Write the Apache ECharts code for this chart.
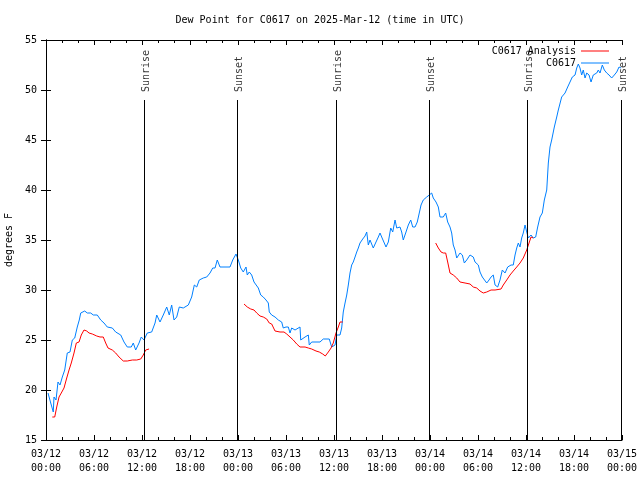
<!DOCTYPE html>
<html><head><meta charset="utf-8">
<script src="https://cdn.jsdelivr.net/npm/echarts@6/dist/echarts.min.js"></script>
<style>html,body{margin:0;padding:0;background:#fff}#c{width:640px;height:480px}</style>
</head><body><div id="c"></div>
<script>
// hours since 2025-03-12 00:00 UTC
const obsHours = [0.25,0.59,0.91,1.0,1.25,1.5,1.75,2.04,2.34,2.66,3.0,3.29,3.59,3.91,4.16,4.34,4.54,4.84,5.16,5.59,5.91,6.41,6.84,7.25,7.66,8.29,8.71,9.34,9.75,10.16,10.66,10.91,11.21,11.63,11.91,12.25,12.66,13.21,13.63,13.84,14.25,14.66,15.09,15.41,15.71,16.0,16.34,16.66,17.16,17.79,18.21,18.54,18.84,19.16,19.66,20.09,20.5,20.84,21.13,21.41,21.75,23.0,23.34,23.75,24.04,24.34,24.66,25.0,25.16,25.41,25.71,26.0,26.25,26.54,26.84,27.16,27.5,27.79,27.91,28.21,28.63,29.04,29.46,29.66,30.0,30.29,30.5,30.71,31.13,31.75,31.84,32.38,32.79,32.91,33.21,34.25,34.66,35.41,35.71,36.13,36.34,36.75,36.96,37.16,37.38,37.59,37.79,38.0,38.21,38.41,38.63,38.84,39.04,39.25,39.59,39.88,40.09,40.29,40.5,40.71,40.91,41.25,41.54,41.75,41.96,42.16,42.5,42.79,43.09,43.34,43.63,43.84,44.25,44.46,44.66,45.0,45.29,45.59,45.84,46.13,46.41,46.66,46.88,47.16,47.59,47.91,48.21,48.41,48.75,49.04,49.25,49.66,49.96,50.21,50.5,50.71,50.91,51.13,51.34,51.54,51.75,52.04,52.29,52.59,53.0,53.41,53.63,54.04,54.25,54.54,54.79,55.09,55.38,55.63,55.91,56.13,56.46,56.75,57.04,57.38,57.71,58.13,58.41,58.63,58.84,59.04,59.25,59.46,59.66,59.88,60.09,60.29,60.63,60.91,61.21,61.46,61.75,62.04,62.29,62.59,62.79,63.0,63.21,63.54,63.84,64.04,64.46,64.88,65.21,65.5,65.79,66.13,66.34,66.54,66.75,66.96,67.16,67.38,67.59,67.88,68.13,68.41,68.84,69.04,69.25,69.54,69.79,70.09,70.38,70.71,71.04,71.34,71.63,71.88];
const obsValues = [19.7,18.7,17.8,19.3,19.0,20.8,20.5,21.3,22.0,23.7,23.8,25.0,25.2,26.3,27.0,27.7,27.8,27.9,27.7,27.7,27.5,27.5,27.0,26.7,26.3,26.2,25.8,25.5,24.8,24.3,24.3,24.7,24.0,24.7,25.3,25.0,25.7,25.8,26.7,27.5,26.8,27.5,28.3,27.5,28.5,27.0,27.3,28.3,28.2,28.5,29.3,30.5,30.3,31.0,31.2,31.3,31.7,32.2,32.2,33.0,32.3,32.3,33.0,33.6,33.0,32.2,31.8,32.3,31.5,31.8,31.5,30.8,31.0,30.2,29.5,29.3,29.0,28.7,27.8,27.5,27.3,27.0,26.8,26.2,26.3,26.3,25.7,26.2,26.0,26.3,25.0,25.3,25.5,24.5,24.8,24.8,25.1,25.1,24.3,24.5,25.5,25.5,26.2,27.8,28.7,29.5,30.5,31.7,32.5,32.8,33.3,33.8,34.2,34.7,35.1,35.4,35.8,34.5,35.0,35.2,34.2,34.8,35.3,35.7,35.3,35.5,34.3,34.8,36.2,35.8,37.0,36.2,36.3,35.8,35.0,35.8,36.5,37.0,36.3,36.3,36.8,37.7,38.5,39.0,39.3,39.5,39.7,39.2,38.8,38.3,37.3,37.3,37.7,36.8,36.3,35.7,34.5,34.0,33.2,33.2,33.7,33.5,32.7,33.0,33.5,33.3,32.8,32.5,31.8,31.3,31.5,30.7,31.0,31.3,31.5,30.5,30.3,31.0,32.0,31.7,32.3,32.5,32.5,33.5,34.2,34.7,34.3,35.2,35.7,36.5,35.8,35.2,35.5,35.2,35.3,36.3,37.3,37.7,39.0,40.0,42.7,44.3,45.0,46.3,47.3,48.0,49.3,49.7,50.3,50.8,51.3,51.5,52.2,52.6,52.2,51.5,52.0,51.2,51.7,51.5,50.8,51.5,51.7,52.0,51.7,52.5,52.0,51.7,51.5,51.2,51.5,51.8,52.3,52.2];

// analysis segments (gaps between them)
const anaHours1 = [0.79,1.09,1.34,1.63,1.91,2.25,2.59,2.88,3.16,3.5,3.79,4.13,4.41,4.75,5.09,5.38,5.79,6.34,6.75,7.16,7.46,7.75,8.29,8.71,9.13,9.66,10.16,10.79,11.34,11.84,12.16,12.46,12.88];
const anaValues1 = [17.3,17.3,18.3,19.3,19.7,20.2,21.2,22.0,22.7,23.7,24.7,24.8,25.5,26.0,25.9,25.7,25.6,25.4,25.3,25.3,24.7,24.2,24.0,23.7,23.3,22.9,22.9,23.0,23.0,23.1,23.5,24.0,24.1];
const anaHours2 = [24.75,25.16,25.59,26.0,26.34,26.75,27.16,27.59,27.91,28.21,28.63,29.25,29.75,30.09,30.5,30.91,31.34,31.75,32.38,32.79,33.21,33.75,34.16,34.59,34.91,35.29,35.63,35.91,36.25,36.54,36.75,37.09];
const anaValues2 = [28.6,28.3,28.1,28.0,27.7,27.4,27.3,27.1,26.7,26.6,25.9,25.8,25.8,25.6,25.3,25.0,24.6,24.3,24.3,24.2,24.1,23.9,23.8,23.6,23.4,23.8,24.2,24.7,25.7,26.3,26.8,26.8];
const anaHours3 = [48.71,49.04,49.38,49.66,49.96,50.21,50.5,50.91,51.34,51.75,52.38,53.0,53.41,53.84,54.25,54.66,55.09,55.63,56.13,56.88,57.16,57.59,58.0,58.41,58.84,59.25,59.66,60.09,60.38,60.63,60.91];
const anaValues3 = [34.7,34.2,33.8,33.7,33.7,32.8,31.7,31.5,31.2,30.8,30.7,30.6,30.3,30.2,29.9,29.7,29.8,30.0,30.0,30.1,30.5,31.0,31.5,31.9,32.3,32.7,33.2,34.0,34.7,35.3,35.2];

const eventHours = [12.25, 23.875, 36.25, 47.875, 60.125, 71.9];
const eventNames = ['Sunrise','Sunset','Sunrise','Sunset','Sunrise','Sunset'];

const yMin = 15, yMax = 55, yStep = 5;
const xMin = 0, xMax = 72, xStep = 6;
const lineTop = 49;

const FONT = 'DejaVu Sans Mono';
function zip(a,b){return a.map((v,i)=>[v,b[i]]);}
const anaData = zip(anaHours1,anaValues1).concat([[null,null]], zip(anaHours2,anaValues2), [[null,null]], zip(anaHours3,anaValues3)).map(p=>p[0]===null?'-':p);

function xLabel(v){
  const day = 12 + Math.floor(v/24);
  const hr = v % 24;
  return '03/' + day + '\n' + (hr<10?'0':'') + hr + ':00';
}

const chart = echarts.init(document.getElementById('c'), null, {renderer:'canvas'});
const axisLine = {show:true, lineStyle:{color:'#000', width:1}};
const legendText = {fontFamily:FONT, fontSize:10, color:'#000'};
chart.setOption({
  animation:false,
  backgroundColor:'#fff',
  title:{text:'Dew Point for C0617 on 2025-Mar-12 (time in UTC)', left:'center', top:10,
    textStyle:{fontFamily:FONT, fontSize:10, fontWeight:'normal', color:'#000'}},
  grid:{left:46, right:18, top:40, bottom:40, containLabel:false, outerBoundsMode:'none'},
  legend:[
    {data:[{name:'C0617 Analysis', icon:'rect'}], right:31, top:46, padding:0, orient:'vertical', align:'right', itemWidth:28, itemHeight:1, itemGap:2,
      textStyle:legendText},
    {data:[{name:'C0617', icon:'rect'}], right:31, top:58, padding:0, orient:'vertical', align:'right', itemWidth:28, itemHeight:1, itemGap:2,
      textStyle:legendText}
  ],
  xAxis:[
    {type:'value', min:xMin, max:xMax, interval:xStep, position:'bottom',
     axisLine:axisLine, axisTick:{show:true, inside:true, length:5, lineStyle:{color:'#000'}},
     minorTick:{show:true, splitNumber:3, length:3, lineStyle:{color:'#000'}},
     axisLabel:{formatter:xLabel, fontFamily:FONT, fontSize:10, color:'#000', margin:7, lineHeight:14},
     splitLine:{show:false}},
    {type:'value', min:xMin, max:xMax, interval:xStep, position:'top',
     axisLine:axisLine, axisTick:{show:true, inside:true, length:5, lineStyle:{color:'#000'}},
     minorTick:{show:true, splitNumber:3, length:3, lineStyle:{color:'#000'}},
     axisLabel:{show:false}, splitLine:{show:false}}
  ],
  yAxis:[
    {type:'value', min:yMin, max:yMax, interval:yStep, position:'left',
     name:'degrees F', nameLocation:'middle', nameGap:32, nameRotate:90,
     nameTextStyle:{fontFamily:FONT, fontSize:10, color:'#000'},
     axisLine:axisLine, axisTick:{show:true, inside:true, length:5, lineStyle:{color:'#000'}},
     axisLabel:{fontFamily:FONT, fontSize:10, color:'#000', margin:9},
     splitLine:{show:false}},
    {type:'value', min:yMin, max:yMax, interval:yStep, position:'right',
     axisLine:axisLine, axisTick:{show:true, inside:true, length:5, lineStyle:{color:'#000'}},
     axisLabel:{show:false}, splitLine:{show:false}}
  ],
  series:[
    {name:'C0617 Analysis', type:'line', data:anaData, symbol:'none', connectNulls:false,
     lineStyle:{color:'#ff0000', width:1}, itemStyle:{color:'#ff0000'}, z:3},
    {name:'C0617', type:'line', data:zip(obsHours,obsValues), symbol:'none',
     lineStyle:{color:'#0080ff', width:1}, itemStyle:{color:'#0080ff'}, z:2,
     markLine:{silent:true, symbol:['none','none'], label:{show:false},
       lineStyle:{color:'#000', width:1, type:'solid'},
       data:eventHours.map(h=>[{coord:[h,yMin]},{coord:[h,lineTop]}])}},
    {name:'events', type:'scatter', symbolSize:0, clip:false, silent:true,
     data:eventHours.map((h,i)=>({value:[h,lineTop], name:eventNames[i]})),
     label:{show:true, formatter:p=>p.name, rotate:90, position:'inside', align:'left', verticalAlign:'middle',
       offset:[8,2], fontFamily:FONT, fontSize:10, color:'#000'}}
  ]
});
</script></body></html>
